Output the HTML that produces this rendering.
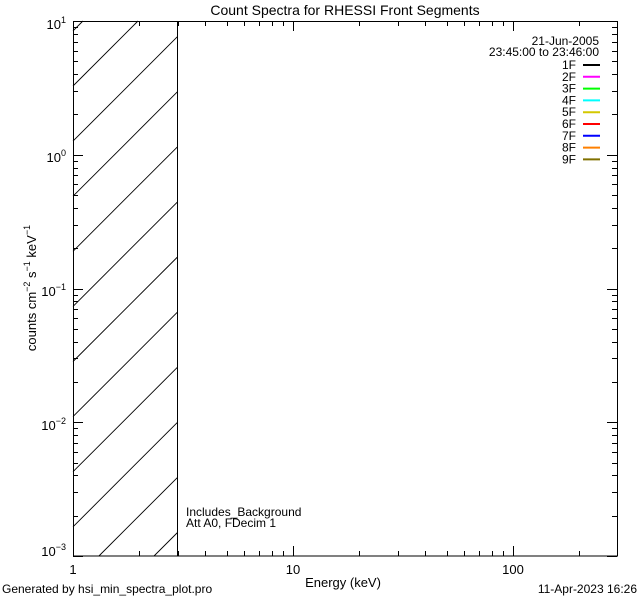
<!DOCTYPE html>
<html><head><style>
html,body{margin:0;padding:0;background:#fff;width:640px;height:600px;overflow:hidden;}
svg{display:block;}
svg text{font-family:"Liberation Sans",sans-serif;fill:#000;}
</style></head><body>
<svg width="640" height="600" viewBox="0 0 640 600" xmlns="http://www.w3.org/2000/svg">
<rect width="640" height="600" fill="#fff"/>
<g id="hatch" stroke="#000" stroke-width="0.9"></g>
<rect x="73.5" y="21.5" width="544" height="534.5" fill="none" stroke="#000" stroke-width="1"/>
<line x1="177.5" y1="21" x2="177.5" y2="556" stroke="#000"/>
<g id="ticks" stroke="#000" stroke-width="1"></g>
<text x="345" y="15" font-size="14" text-anchor="middle">Count Spectra for RHESSI Front Segments</text>
<g font-size="13" text-anchor="end">
<text x="66" y="29">10<tspan dy="-6" font-size="9">1</tspan></text>
<text x="66" y="162">10<tspan dy="-6" font-size="9">0</tspan></text>
<text x="66" y="296">10<tspan dy="-6" font-size="9">−1</tspan></text>
<text x="66" y="430">10<tspan dy="-6" font-size="9">−2</tspan></text>
<text x="66" y="556">10<tspan dy="-6" font-size="9">−3</tspan></text>
</g>
<g font-size="13" text-anchor="middle">
<text x="73" y="574">1</text>
<text x="293" y="574">10</text>
<text x="513" y="574">100</text>
<text x="343" y="587">Energy (keV)</text>
</g>
<text transform="translate(36,288) rotate(-90)" font-size="13" text-anchor="middle">counts cm<tspan dy="-6" font-size="9">−2</tspan><tspan dy="6"> s</tspan><tspan dy="-6" font-size="9">−1</tspan><tspan dy="6"> keV</tspan><tspan dy="-6" font-size="9">−1</tspan></text>
<g font-size="12">
<text x="186" y="516">Includes_Background</text>
<text x="186" y="527">Att A0, FDecim 1</text>
<text x="2" y="593">Generated by hsi_min_spectra_plot.pro</text>
<text x="637" y="593" text-anchor="end">11-Apr-2023 16:26</text>
</g>
<g font-size="12" text-anchor="end">
<text x="599" y="45">21-Jun-2005</text>
<text x="599" y="56">23:45:00 to 23:46:00</text>
</g>
<g id="leg" font-size="12" text-anchor="end"></g>
<script>
var ns="http://www.w3.org/2000/svg";
function L(g,x1,y1,x2,y2,col,w){var l=document.createElementNS(ns,"line");l.setAttribute("x1",x1);l.setAttribute("y1",y1);l.setAttribute("x2",x2);l.setAttribute("y2",y2);l.setAttribute("stroke",col||"#000");if(w)l.setAttribute("stroke-width",w);g.appendChild(l);}
var h=document.getElementById("hatch");
for(var k=-1;k<12;k++){var c=86+55.1*k;var xa=Math.max(73,73+c-556),xb=Math.min(177.5,73+c-21);if(xb<=xa)continue;L(h,xa,c-(xa-73),xb,c-(xb-73));}
var t=document.getElementById("ticks");
var X0=73,XS=220,Y0=556,YS=133.75;
for(var d=0;d<3;d++)for(var m=1;m<10;m++){var v=d+Math.log10(m);var x=X0+v*XS;if(x>617)continue;var len=m==1?10:5;x=Math.round(x)+0.5;L(t,x,556,x,556-len);L(t,x,21,x,21+len);}
for(var d=0;d<4;d++)for(var m=1;m<10;m++){var v=d+Math.log10(m);var y=Y0-v*YS;var len=m==1?10:5;y=Math.round(y)+0.5;L(t,73,y,73+len,y);L(t,617,y,617-len,y);}
L(t,73,21.5,83,21.5);L(t,617,21.5,607,21.5);
var lg=document.getElementById("leg");
var cols=["#000","#ff00ff","#00ff00","#00ffff","#d4c800","#ff0000","#0000ff","#ff8000","#807000"];
for(var i=0;i<9;i++){var y=69+11.8*i;var tx=document.createElementNS(ns,"text");tx.setAttribute("x",576);tx.setAttribute("y",y);tx.textContent=(i+1)+"F";lg.appendChild(tx);L(lg,583,y-4,600,y-4,cols[i],2);}
</script>
</svg>
</body></html>
